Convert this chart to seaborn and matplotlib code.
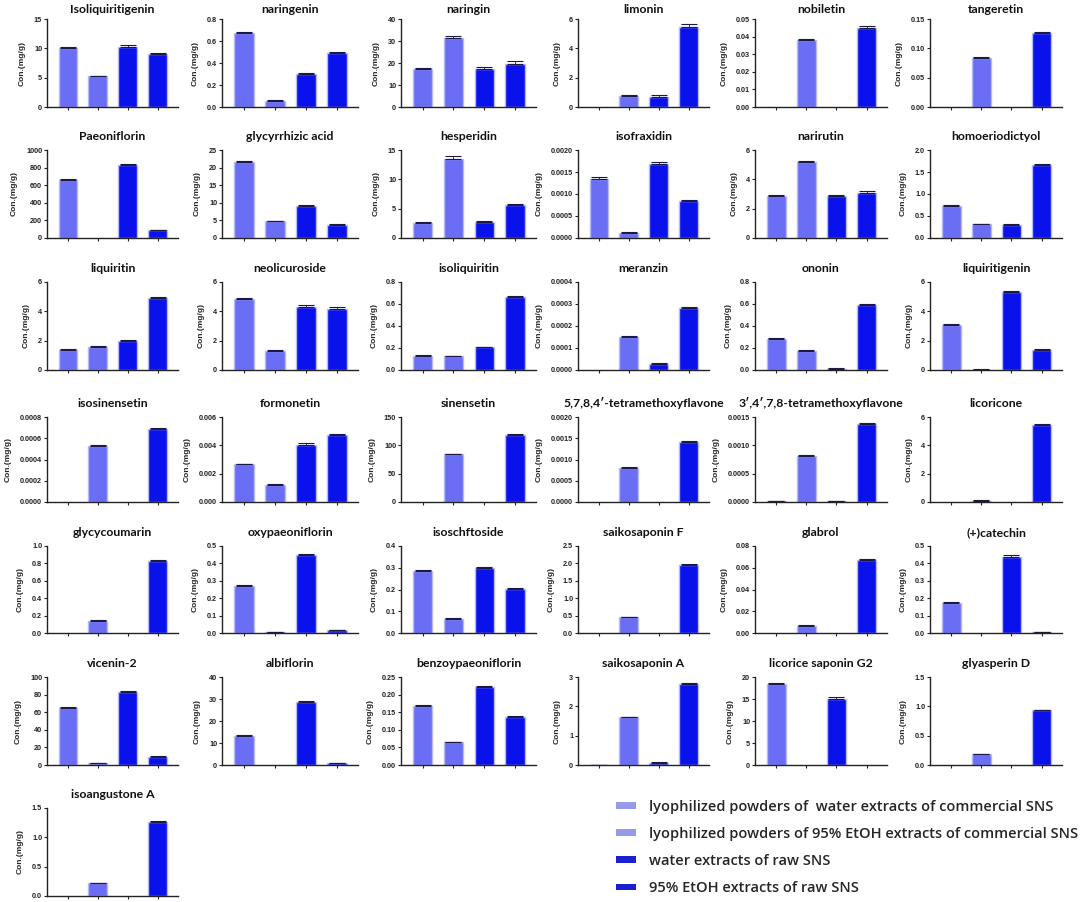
import numpy as np
import pandas as pd
import matplotlib
matplotlib.use("Agg")
import matplotlib.pyplot as plt
from matplotlib.patches import Patch
from matplotlib.ticker import FormatStrFormatter
import seaborn as sns

# groups (bar order inside every panel)
groups = ["water_comm", "etoh_comm", "water_raw", "etoh_raw"]
legend_labels = [
    "lyophilized powders of  water extracts of commercial SNS",
    "lyophilized powders of 95% EtOH extracts of commercial SNS",
    "water extracts of raw SNS",
    "95% EtOH extracts of raw SNS",
]

compounds = [
    "Isoliquiritigenin", "naringenin", "naringin", "limonin", "nobiletin", "tangeretin",
    "Paeoniflorin", "glycyrrhizic acid", "hesperidin", "isofraxidin", "narirutin", "homoeriodictyol",
    "liquiritin", "neolicuroside", "isoliquiritin", "meranzin", "ononin", "liquiritigenin",
    "isosinensetin", "formonetin", "sinensetin", "5,7,8,4\u2032-tetramethoxyflavone",
    "3\u2032,4\u2032,7,8-tetramethoxyflavone", "licoricone",
    "glycycoumarin", "oxypaeoniflorin", "isoschftoside", "saikosaponin F", "glabrol", "(+)catechin",
    "vicenin-2", "albiflorin", "benzoypaeoniflorin", "saikosaponin A", "licorice saponin G2", "glyasperin D",
    "isoangustone A",
]

# concentration (mg/g), one list of 4 per compound
values = [
    [10.0, 5.2, 10.3, 9.1], [0.67, 0.055, 0.30, 0.49], [17.3, 31.5, 17.5, 19.5],
    [0, 0.75, 0.70, 5.45], [0, 0.038, 0, 0.045], [0, 0.083, 0, 0.126],
    [660, 0, 825, 90], [21.5, 4.7, 9.0, 3.6], [2.6, 13.5, 2.7, 5.6],
    [0.00134, 0.00012, 0.00169, 0.00083], [2.85, 5.2, 2.85, 3.1], [0.72, 0.31, 0.29, 1.65],
    [1.35, 1.58, 1.97, 4.9], [4.85, 1.3, 4.3, 4.15], [0.13, 0.125, 0.205, 0.665],
    [0, 0.000152, 0.000028, 0.00028], [0.28, 0.17, 0.012, 0.59], [3.07, 0.03, 5.33, 1.35],
    [0, 0.00053, 0, 0.00069], [0.00265, 0.0012, 0.00405, 0.00475], [0, 84, 0, 118],
    [0, 0.0008, 0, 0.00142], [0.000012, 0.00081, 0.000015, 0.00137], [0, 0.1, 0, 5.45],
    [0, 0.14, 0, 0.83], [0.27, 0.004, 0.447, 0.018], [0.285, 0.065, 0.298, 0.203],
    [0, 0.46, 0, 1.95], [0, 0.0065, 0, 0.0675], [0.175, 0, 0.435, 0.006],
    [65, 2.3, 83, 9.5], [13.3, 0, 28.7, 0.8], [0.167, 0.064, 0.222, 0.135],
    [0.01, 1.62, 0.08, 2.75], [18.4, 0, 15.1, 0], [0, 0.18, 0, 0.93],
    [0, 0.22, 0, 1.26],
]

errors = [
    [0.2, 0.15, 0.2, 0.15], [0.01, 0.01, 0.01, 0.01], [0.5, 0.6, 0.5, 1.3],
    [0, 0.05, 0.1, 0.2], [0, 0.0005, 0, 0.0008], [0, 0.002, 0, 0.002],
    [10, 0, 15, 3], [0.3, 0.2, 0.3, 0.3], [0.1, 0.4, 0.2, 0.2],
    [0.00004, 0.00002, 0.00004, 0.00004], [0.07, 0.05, 0.08, 0.08], [0.02, 0.005, 0.02, 0.04],
    [0.07, 0.04, 0.05, 0.05], [0.05, 0.05, 0.15, 0.12], [0.005, 0.005, 0.007, 0.01],
    [0, 0.000004, 0.000004, 0.000005], [0.008, 0.008, 0.008, 0.01], [0.05, 0.01, 0.07, 0.06],
    [0, 0.00001, 0, 0.00001], [0.00005, 0.00004, 0.00008, 0.00008], [0, 1.5, 0, 2],
    [0, 0.00002, 0, 0.00002], [0.000005, 0.00002, 0.00001, 0.00003], [0, 0.05, 0, 0.08],
    [0, 0.005, 0, 0.01], [0.005, 0.002, 0.006, 0.002], [0.004, 0.004, 0.004, 0.005],
    [0, 0.01, 0, 0.03], [0, 0.0007, 0, 0.0008], [0.004, 0, 0.012, 0.002],
    [0.5, 0.3, 1, 1], [0.5, 0, 0.4, 0.2], [0.003, 0.002, 0.003, 0.003],
    [0, 0.02, 0.01, 0.03], [0.3, 0, 0.3, 0], [0, 0.015, 0, 0.005],
    [0, 0.01, 0, 0.01],
]

y_max = [15, 0.8, 40, 6, 0.05, 0.15,
         1000, 25, 15, 0.002, 6, 2.0,
         6, 6, 0.8, 0.0004, 0.8, 6,
         0.0008, 0.006, 150, 0.002, 0.0015, 6,
         1.0, 0.5, 0.4, 2.5, 0.08, 0.5,
         100, 40, 0.25, 3, 20, 1.5,
         1.5]
y_step = [5, 0.2, 10, 2, 0.01, 0.05,
          200, 5, 5, 0.0005, 2, 0.5,
          2, 2, 0.2, 0.0001, 0.2, 2,
          0.0002, 0.002, 50, 0.0005, 0.0005, 2,
          0.2, 0.1, 0.1, 0.5, 0.02, 0.1,
          20, 10, 0.05, 1, 5, 0.5,
          0.5]

LIGHT = "#6a6ef4"
DARK = "#0a12ec"
EDGE = "#b8baf4"
palette = dict(zip(groups, [LIGHT, LIGHT, DARK, DARK]))

# panel frame positions in pixels (figure is 1080 x 902)
W, H = 1080, 902
col_left = [47, 222, 401, 578, 755, 930]
col_right = [178, 358, 536, 709, 887, 1062]
row_top = [19, 150, 282, 417, 546, 677, 808]
row_bottom = [107, 238, 370, 502, 633, 765, 896]

sns.set_theme(style="ticks")
plt.rcParams["font.family"] = ["Liberation Sans", "DejaVu Sans"]
plt.rcParams["font.weight"] = "bold"

fig = plt.figure(figsize=(W / 100, H / 100), dpi=100)
fig.patch.set_facecolor("white")

for i, name in enumerate(compounds):
    r, c = divmod(i, 6)
    l, rr = col_left[c], col_right[c]
    t, b = row_top[r], row_bottom[r]
    ax = fig.add_axes([l / W, 1 - b / H, (rr - l) / W, (b - t) / H])

    df = pd.DataFrame({"group": groups, "conc": values[i]})
    sns.barplot(data=df, x="group", y="conc", hue="group", order=groups,
                hue_order=groups, palette=palette, saturation=1, width=0.63,
                edgecolor=EDGE, linewidth=1.0, errorbar=None,
                legend=False, ax=ax)
    # hide outlines of empty bars
    for p in ax.patches:
        if p.get_height() == 0:
            p.set_edgecolor("none")

    v = np.array(values[i])
    e = np.array(errors[i])
    keep = (v > 0) | (e > 0)
    x = np.arange(4)[keep]
    ax.errorbar(x, v[keep], yerr=[np.zeros(keep.sum()), e[keep]], fmt="none",
                ecolor="#1a1a44", elinewidth=0.6, capsize=5.5, capthick=0.8)

    ax.set_xlim(-0.7, 3.68)
    ax.set_ylim(0, y_max[i])
    ax.set_yticks(np.arange(0, y_max[i] + y_step[i] / 2, y_step[i]))
    dec = max(0, int(-np.floor(np.log10(y_step[i]) + 1e-9)))
    ax.yaxis.set_major_formatter(FormatStrFormatter(f"%.{dec}f"))
    ax.set_xticks(range(4))
    ax.set_xticklabels([])
    ax.set_xlabel("")
    ax.set_ylabel("Con.(mg/g)", fontsize=6, fontweight="bold", labelpad=6)
    ax.tick_params(axis="both", length=2.5, width=0.8, labelsize=5.2, pad=1,
                   colors="#222222")
    sns.despine(ax=ax)
    for s in ["left", "bottom"]:
        ax.spines[s].set_linewidth(1.0)
        ax.spines[s].set_color("#222222")
    ax.set_title(name, fontsize=8.8, family="Lato", fontweight="bold",
                 pad=4 if r == 0 else 7, color="#111111")

legend_face = ["#9799ea", "#9799ea", "#1a20d0", "#1a20d0"]
handles = [Patch(facecolor=fc, edgecolor="none") for fc in legend_face]
fig.legend(handles=handles, labels=legend_labels, loc="upper left",
           bbox_to_anchor=(610 / W, 1 - 794 / H), frameon=False,
           prop={"family": "Open Sans", "weight": "semibold", "size": 10.5},
           handlelength=1.4, handleheight=0.35, labelspacing=0.9,
           handletextpad=0.9, borderaxespad=0)

fig.savefig("out.png", dpi=100, facecolor="white")
